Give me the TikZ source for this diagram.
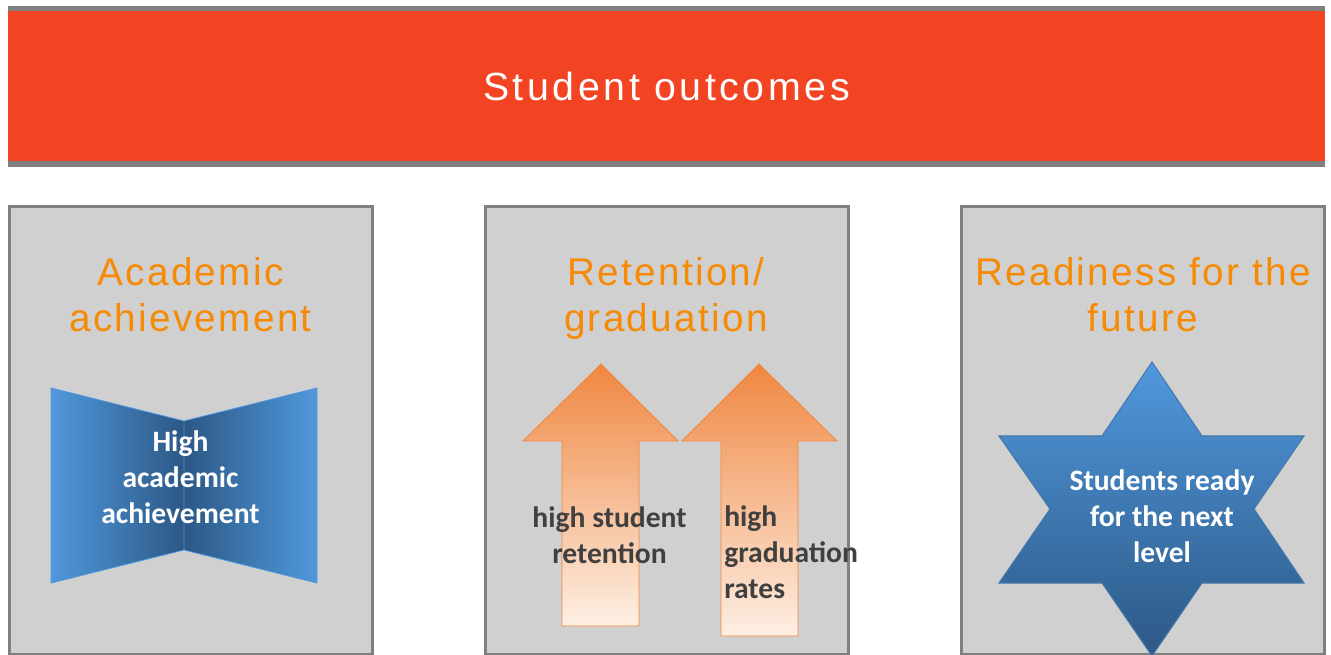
\documentclass[tikz,border=0pt]{standalone}
\usepackage{fontspec}
\setmainfont{Carlito}
\newfontfamily\headfont[LetterSpace=6]{Liberation Sans}
\newfontfamily\titlefont[LetterSpace=9]{Liberation Sans}
\definecolor{bannerred}{RGB}{242,67,35}
\definecolor{framegray}{RGB}{128,128,128}
\definecolor{panelgray}{RGB}{208,208,208}
\definecolor{headorange}{RGB}{247,138,5}
\definecolor{lightblue}{RGB}{80,152,220}
\definecolor{darkblue}{RGB}{44,88,134}
\definecolor{edgeblue}{RGB}{70,120,170}
\definecolor{arroworange}{RGB}{240,135,65}
\definecolor{arrowpale}{RGB}{253,239,228}
\definecolor{darktext}{RGB}{64,64,64}
\tikzset{
	panel/.style={draw=framegray,fill=panelgray,line width=2.25pt},
	heading/.style={anchor=base,align=center,inner sep=0pt,text=headorange,
		font=\headfont\fontsize{29}{34.5}\selectfont},
	inlabel/.style={anchor=base,align=center,inner sep=0pt,
		font=\fontsize{22.2}{27}\selectfont\bfseries},
}
\begin{document}
\begin{tikzpicture}[x=0.75pt,y=-0.75pt]
		\useasboundingbox[fill=white](0,0)rectangle(1331,655);

		% banner
		\fill[framegray](8,6)rectangle(1325,167);
		\fill[bannerred](8,11)rectangle(1325,161);
		\node[anchor=base,inner sep=0pt,text=white,font=\titlefont\fontsize{29.5}{34}\selectfont]
			(title)at(666.5,101){Student outcomes};

		% three panels
		\foreach \x/\name in {9/left,485/middle,961/right}
			\draw[panel](\x,207)rectangle++(363,447)coordinate(\name);

		% headings (base = last line)
		\node[heading](achieve)at(190.5,332){Academic\\achievement};
		\node[heading](retain)at(666,332){Retention/\\graduation};
		\node[heading](ready)at(1143,332){Readiness for the\\future};

		% folded banner
		\shade[left color=lightblue,right color=darkblue]
			(51,388)--(184,421)--(184,550)--(51,583)--cycle;
		\shade[left color=darkblue,right color=lightblue]
			(184,421)--(317,388)--(317,583)--(184,550)--cycle;
		\draw[lightblue,line width=0.6pt]
			(51,388)--(184,421)--(317,388)--(317,583)--(184,550)--(51,583)--cycle
			(184,421)--(184,550);
		\node[inlabel,text=white](highach)at(180.5,523){High\\academic\\achievement};

		% two arrows up
		\shadedraw[draw=arroworange,line width=0.6pt,top color=arroworange,bottom color=arrowpale]
			(601,364)--(678,441)--(639,441)--(639,626)--(562,626)--(562,441)--(523,441)--cycle;
		\shadedraw[draw=arroworange,line width=0.6pt,top color=arroworange,bottom color=arrowpale]
			(759,364)--(837,441)--(798,441)--(798,636)--(721,636)--(721,441)--(682,441)--cycle;
		\node[inlabel,text=darktext](stay)at(609.5,563){high student\\retention};
		\node[inlabel,text=darktext,anchor=base west,align=left](grad)at(724,598){high\\graduation\\rates};

		% star
		\shadedraw[draw=edgeblue,line width=0.8pt,top color=lightblue,bottom color=darkblue]
			(1152,362)--(1202,436)--(1304,436)--(1254,509)--(1304,583)--(1202,583)
			--(1152,656)--(1102,583)--(999,583)--(1050,509)--(999,436)--(1102,436)--cycle;
		\node[inlabel,text=white](next)at(1162,562){Students ready\\for the next\\level};
	\end{tikzpicture}
\end{document}
